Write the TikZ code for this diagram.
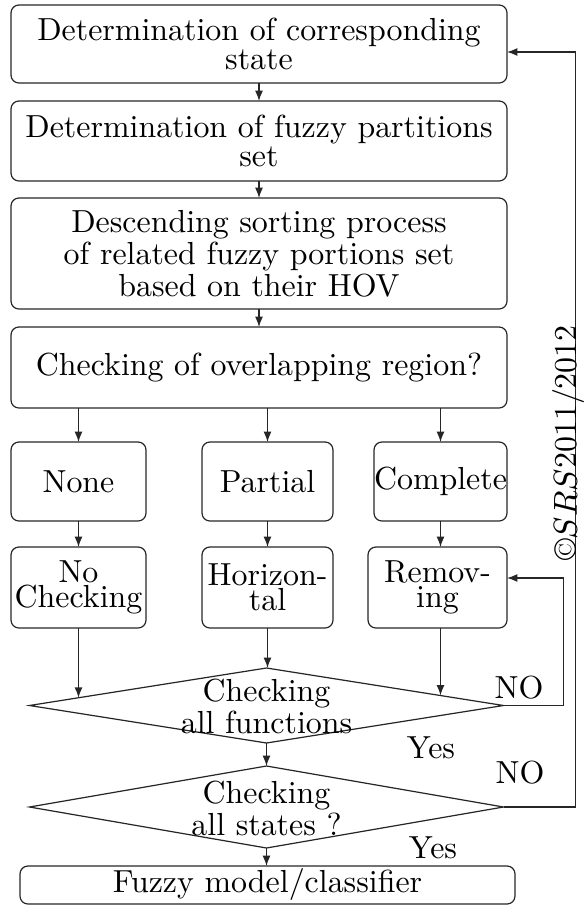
\documentclass[tikz,border=0pt]{standalone}
\usepackage{tikz}
\usetikzlibrary{shapes.geometric,arrows.meta,calc}
\begin{document}
\begin{tikzpicture}[x=0.329pt,y=-0.329pt,
  every node/.style={inner sep=0pt, outer sep=0pt},
  stepbox/.style={draw=black!85, rounded corners=2.6pt, align=center,
    line width=0.4pt, font=\fontsize{10.5}{8.3}\selectfont},
  decision/.style={draw=black!85, diamond, line width=0.4pt},
  lbl/.style={align=center, font=\fontsize{10.5}{8.3}\selectfont},
  arr/.style={draw=black!85, line width=0.4pt, -{Latex[length=3.4pt,width=2.6pt]}}]
\useasboundingbox (0,0) rectangle (584,909);

% main sequence
\node[stepbox, minimum width=496*0.329pt, minimum height=78*0.329pt] (b1) at (259,44)
  {Determination of corresponding\\state};
\node[stepbox, minimum width=496*0.329pt, minimum height=80*0.329pt] (b2) at (259,141)
  {Determination of fuzzy partitions\\set};
\node[stepbox, minimum width=496*0.329pt, minimum height=111*0.329pt,
  font=\fontsize{10.5}{10.6}\selectfont] (b3) at (259,253.5)
  {Descending sorting process\\of related fuzzy portions set\\based on their HOV};
\node[stepbox, minimum width=496*0.329pt, minimum height=81*0.329pt] (b4) at (259,367.5)
  {Checking of overlapping region?};

% overlap cases
\node[stepbox, minimum width=135*0.329pt, minimum height=79*0.329pt] (none) at (78.5,481.5) {None};
\node[stepbox, minimum width=131*0.329pt, minimum height=79*0.329pt] (partial) at (267.5,481.5) {Partial};
\node[stepbox, minimum width=133*0.329pt, minimum height=79*0.329pt] (complete) at (440.5,481.5) {Complete};

\node[stepbox, minimum width=135*0.329pt, minimum height=81*0.329pt] (nochk) at (78.5,587.5) {No\\Checking};
\node[stepbox, minimum width=131*0.329pt, minimum height=81*0.329pt] (horiz) at (267.5,587.5) {Horizon-\\tal};
\node[stepbox, minimum width=139*0.329pt, minimum height=81*0.329pt] (remov) at (437.5,587.5) {Remov-\\ing};

% decisions
\node[decision, minimum width=474*0.329pt, minimum height=75*0.329pt] (d1) at (266.5,705.5) {};
\node[lbl] (d1t) at (266.5,706) {Checking\\all functions};
\node[decision, minimum width=474*0.329pt, minimum height=82*0.329pt] (d2) at (266.5,807) {};
\node[lbl] (d2t) at (266.5,808) {Checking\\all states ?};

\node[stepbox, minimum width=495*0.329pt, minimum height=38*0.329pt] (fin) at (267.5,885)
  {Fuzzy model/classifier};

% branch labels
\node[lbl] (no1) at (519,688) {NO};
\node[lbl] (yes1) at (431,748) {Yes};
\node[lbl] (no2) at (520,773) {NO};
\node[lbl] (yes2) at (433,848) {Yes};

% vertical connectors
\draw[arr] (b1.south) -- (b2.north);
\draw[arr] (b2.south) -- (b3.north);
\draw[arr] (b3.south) -- (b4.north);
\draw[arr] (none.north |- b4.south) -- (none.north);
\draw[arr] (partial.north |- b4.south) -- (partial.north);
\draw[arr] (complete.north |- b4.south) -- (complete.north);
\draw[arr] (none.south) -- (nochk.north);
\draw[arr] (partial.south) -- (horiz.north);
\draw[arr] (complete.south) -- (complete.south |- remov.north);

\coordinate (e1) at ($(d1.west)!0.207!(d1.north)$);
\coordinate (e3) at ($(d1.north)!0.732!(d1.east)$);
\draw[arr] (nochk.south) -- (nochk.south |- e1);
\draw[arr] (horiz.south) -- (horiz.south |- d1.north);
\draw[arr] (complete.south |- remov.south) -- (complete.south |- e3);
\draw[arr] (d1.south) -- (d2.north);
\draw[arr] (d2.south) -- (d2.south |- fin.north);

% feedback loops
\draw[arr] (d1.east) -- ++(60,0) |- ($(remov.east)+(0,-9.5)$);
\draw[arr] (d2.east) -- ++(72,0) |- ($(b1.east)+(0,8)$);

% copyright mark
\node[rotate=90, font=\fontsize{10.5}{12}\selectfont] (copy) at (569,443)
  {\copyright$SRS$2011/2012};
\end{tikzpicture}
\end{document}
